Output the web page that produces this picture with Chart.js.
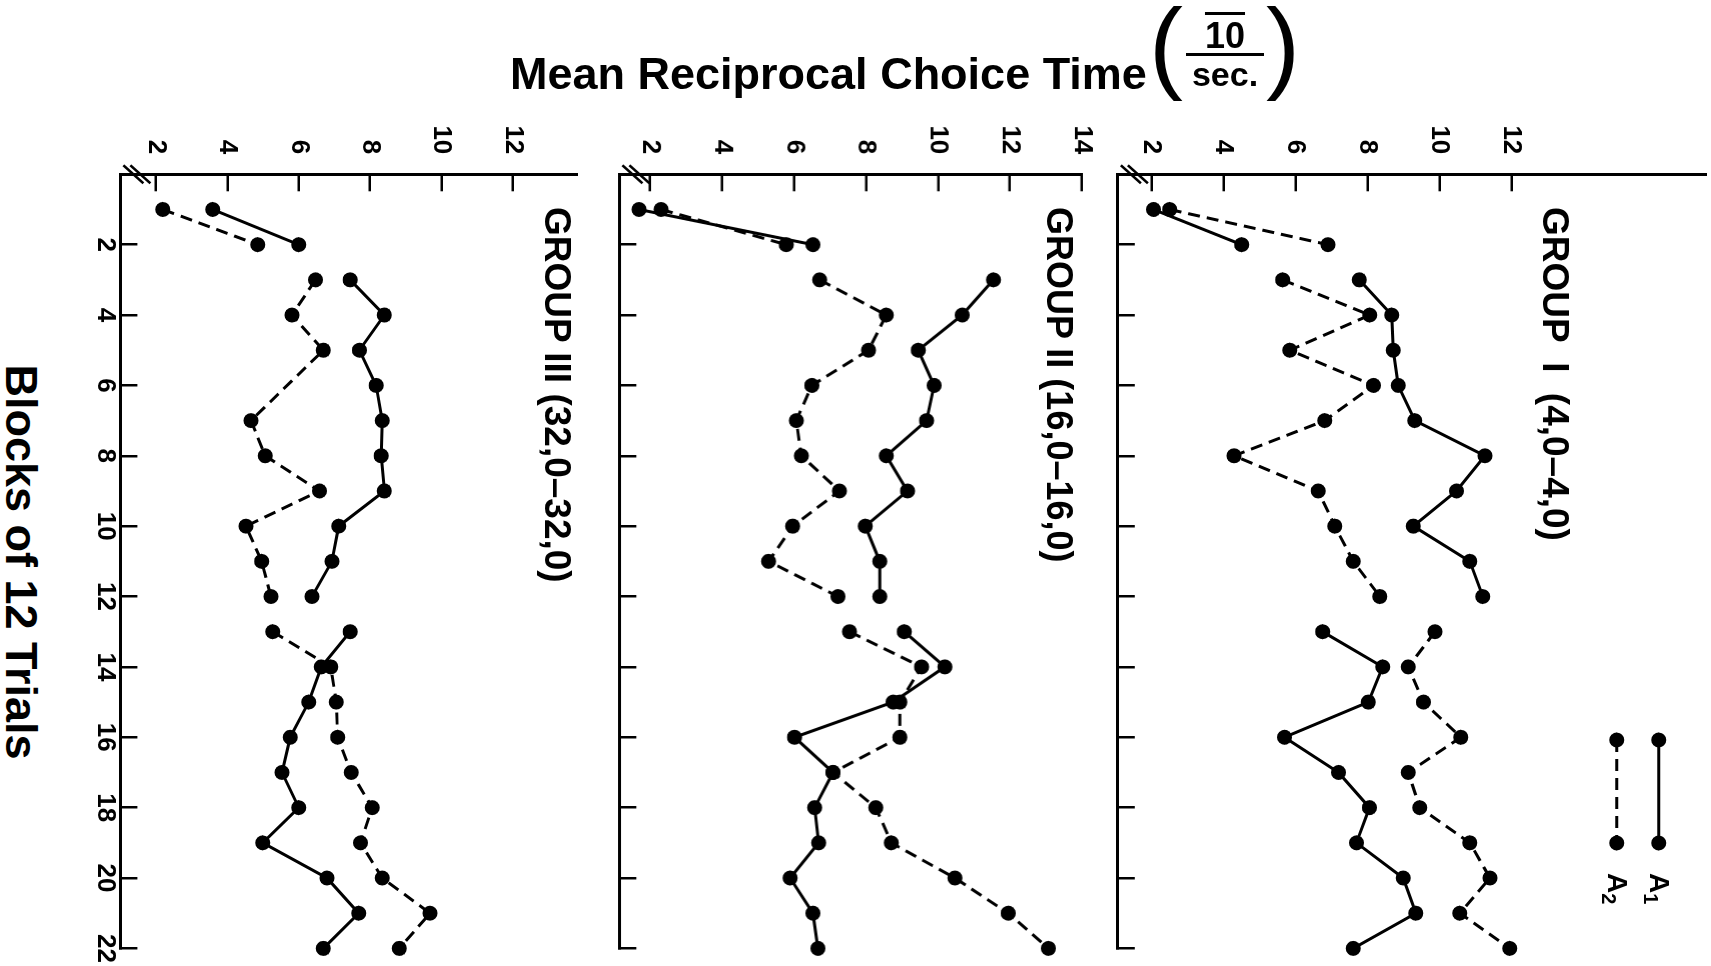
<!DOCTYPE html>
<html>
<head>
<meta charset="utf-8">
<script src="https://cdn.jsdelivr.net/npm/chart.js@4.4.1/dist/chart.umd.min.js"></script>
<style>
html,body{margin:0;padding:0;background:#fff;}
body{width:1711px;height:966px;overflow:hidden;position:relative;font-family:"Liberation Sans",Arial,sans-serif;color:#000;}
#rot{position:absolute;left:0;top:0;width:966px;height:1711px;transform-origin:0 0;transform:translateX(1711px) rotate(90deg);}
.panel{position:absolute;left:0;width:966px;}
.lbl{position:absolute;white-space:nowrap;font-weight:bold;}
.grp{font-size:37px;line-height:37px;}
.leg{font-size:28px;line-height:28px;}
.leg sub{font-size:20px;vertical-align:-6px;line-height:0;}
</style>
</head>
<body>
<div id="rot">
  <div class="panel" id="p1"><canvas id="c1"></canvas></div>
  <div class="panel" id="p2"><canvas id="c2"></canvas></div>
  <div class="panel" id="p3"><canvas id="c3"></canvas></div>
  <div class="lbl grp" id="g1" style="left:207px;top:137px;word-spacing:10px;"></div>
  <div class="lbl grp" id="g2" style="left:207px;top:633px;font-size:36px;"></div>
  <div class="lbl grp" id="g3" style="left:207px;top:1135px;"></div>
  <div class="lbl leg" style="left:873px;top:38px;">A<sub>1</sub></div>
  <div class="lbl leg" style="left:873px;top:80px;">A<sub>2</sub></div>
  <div class="lbl" id="xtitle" style="left:162px;width:800px;text-align:center;top:1667px;font-size:45px;line-height:45px;"></div>
</div>
<div class="lbl" id="ytitle" style="left:510px;top:51px;font-size:45px;line-height:45px;"></div>
<div class="lbl" style="left:1149px;top:-6px;font-size:102px;line-height:102px;font-weight:normal;">(</div>
<div class="lbl" style="left:1190px;top:18px;width:70px;text-align:center;font-size:36px;line-height:36px;text-decoration:overline;text-decoration-thickness:3px;">10</div>
<div style="position:absolute;left:1186px;top:53px;width:78px;height:0;border-top:3px solid #000;"></div>
<div class="lbl" style="left:1186px;top:57px;width:78px;text-align:center;font-size:34px;line-height:34px;">sec.</div>
<div class="lbl" style="left:1266px;top:-6px;font-size:102px;line-height:102px;font-weight:normal;">)</div>

<script>
// ---------- data ----------
const blocks = [1,2,3,4,5,6,7,8,9,10,11,12,13,14,15,16,17,18,19,20,21,22];
const blockTicks = [2,4,6,8,10,12,14,16,18,20,22];
const blockTickLabels = ['2','4','6','8','10','12','14','16','18','20','22'];
const valueTicksI = [2,4,6,8,10,12];
const valueTicksII = [2,4,6,8,10,12,14];
const valueTicksIII = [2,4,6,8,10,12];
const seriesNames = ['A1','A2'];
const groupNames = ['GROUP I (4,0\u20134,0)','GROUP II (16,0\u201316,0)','GROUP III (32,0\u201332,0)'];
const yTitle = 'Mean Reciprocal Choice Time';
const xTitle = 'Blocks of 12 Trials';

const groupI_A1 = [2.05,4.5,7.77,8.67,8.71,8.85,9.31,11.26,10.47,9.27,10.84,11.2,6.75,8.42,8.02,5.69,7.19,8.05,7.69,8.99,9.34,7.6];
const groupI_A2 = [2.5,6.9,5.64,8.06,5.84,8.16,6.81,4.29,6.63,7.09,7.6,8.34,9.87,9.13,9.55,10.59,9.13,9.45,10.84,11.4,10.56,11.95];
const groupII_A1 = [1.69,6.52,11.54,10.67,9.45,9.89,9.68,8.56,9.15,7.98,8.38,8.38,9.06,10.19,8.75,6.01,7.08,6.57,6.68,5.89,6.52,6.66];
const groupII_A2 = [2.3,5.78,6.71,8.56,8.07,6.49,6.06,6.2,7.26,5.96,5.29,7.22,7.54,9.54,8.94,8.94,7.08,8.27,8.7,10.47,11.95,13.07];
const groupIII_A1 = [3.59,6.0,7.44,8.4,7.7,8.17,8.34,8.31,8.4,7.12,6.93,6.37,7.44,6.63,6.28,5.76,5.53,6.0,4.99,6.79,7.68,6.69];
const groupIII_A2 = [2.19,4.85,6.47,5.81,6.69,null,4.66,5.06,6.58,4.52,4.96,5.22,5.27,6.9,7.05,7.09,7.47,8.06,7.73,8.34,9.68,8.82];
// lines are not drawn between these block indices (gap after block 2 and after block 12)
const breakAfterIndex = [1, 11];

document.getElementById('g1').textContent = groupNames[0];
document.getElementById('g2').textContent = groupNames[1];
document.getElementById('g3').textContent = groupNames[2];
document.getElementById('ytitle').textContent = yTitle;
document.getElementById('xtitle').textContent = xTitle;

// ---------- layout ----------
const FONT = "'Liberation Sans', Arial, sans-serif";
const PAD_TOP = 30;
const AXIS_LEFT = 174.3;
const AXIS_RIGHT = 948.4;

const breakMarks = {
  id: 'breakMarks',
  afterDraw(chart) {
    const {ctx, chartArea: a} = chart;
    ctx.save();
    ctx.strokeStyle = '#000';
    ctx.lineWidth = 2.5;
    ctx.setLineDash([]);
    [13, 20].forEach(off => {
      const y = a.bottom - off;
      ctx.beginPath();
      ctx.moveTo(a.left - 9, y + 10);
      ctx.lineTo(a.left + 9, y - 10);
      ctx.stroke();
    });
    ctx.restore();
  }
};

function legendPlugin(canvasTop) {
  return {
    id: 'legendMarks',
    afterDraw(chart) {
      const ctx = chart.ctx;
      const rows = [{v: 52, dash: []}, {v: 94, dash: [12, 7]}];
      ctx.save();
      rows.forEach(r => {
        const y = r.v - canvasTop;
        ctx.strokeStyle = '#000';
        ctx.lineWidth = 3;
        ctx.setLineDash(r.dash);
        ctx.beginPath();
        ctx.moveTo(740, y);
        ctx.lineTo(843, y);
        ctx.stroke();
        ctx.setLineDash([]);
        ctx.fillStyle = '#000';
        [740, 843].forEach(u => {
          ctx.beginPath();
          ctx.arc(u, y, 7.5, 0, Math.PI * 2);
          ctx.fill();
        });
      });
      ctx.restore();
    }
  };
}

function makePanel(n, opt) {
  const top = opt.base - (opt.max - opt.min) * opt.ppu;
  const canvasTop = top - PAD_TOP;
  const wrap = document.getElementById('p' + n);
  wrap.style.top = canvasTop + 'px';
  wrap.style.height = (opt.base + opt.xH - canvasTop) + 'px';

  const skipSeg = ctx => breakAfterIndex.includes(ctx.p0DataIndex) ? 'rgba(0,0,0,0)' : undefined;
  const mk = (vals, name, dash) => ({
    label: name,
    data: blocks.map((b, i) => ({x: b, y: vals[i]})),
    borderColor: '#000',
    backgroundColor: '#000',
    borderWidth: 3,
    borderDash: dash,
    pointRadius: 7.5,
    pointHoverRadius: 7.5,
    pointBorderWidth: 0,
    pointBackgroundColor: '#000',
    tension: 0,
    spanGaps: true,
    clip: false,
    segment: {borderColor: skipSeg}
  });

  const plugins = [breakMarks];
  if (opt.legend) plugins.push(legendPlugin(canvasTop));

  new Chart(document.getElementById('c' + n), {
    type: 'line',
    data: {datasets: [mk(opt.a1, seriesNames[0], []), mk(opt.a2, seriesNames[1], [12, 7])]},
    plugins,
    options: {
      responsive: true,
      maintainAspectRatio: false,
      animation: false,
      devicePixelRatio: 1,
      events: [],
      layout: {padding: {left: 0, right: 966 - AXIS_RIGHT, top: PAD_TOP, bottom: 0}},
      plugins: {legend: {display: false}, tooltip: {enabled: false}, title: {display: false}},
      scales: {
        x: {
          type: 'linear', position: 'bottom', min: 0, max: 22,
          afterBuildTicks: s => { s.ticks = blockTicks.map(v => ({value: v})); },
          afterFit: s => { s.height = opt.xH; s.paddingLeft = 0; s.paddingRight = 0; },
          grid: {drawOnChartArea: false, drawTicks: true, tickLength: -17, color: '#000', lineWidth: 2.5},
          border: {display: true, color: '#000', width: 3},
          ticks: {
            display: opt.showX, padding: 17, color: '#000', maxRotation: 0, autoSkip: false,
            font: {family: FONT, size: 26, weight: 'bold'},
            callback: v => blockTickLabels[blockTicks.indexOf(v)]
          }
        },
        y: {
          type: 'linear', position: 'left', min: opt.min, max: opt.max,
          afterBuildTicks: s => { s.ticks = opt.ticks.map(v => ({value: v})); },
          afterFit: s => { s.width = AXIS_LEFT; s.paddingTop = 0; s.paddingBottom = 0; },
          grid: {drawOnChartArea: false, drawTicks: true, tickLength: -17, color: '#000', lineWidth: 2.5},
          border: {display: true, color: '#000', width: 3},
          ticks: {
            padding: 37, color: '#000',
            font: {family: FONT, size: 26, weight: 'bold'},
            callback: v => String(v)
          }
        }
      }
    }
  });
}

makePanel(1, {base: 593, min: 1.06, max: 17.4, ppu: 36, xH: 20, showX: false, ticks: valueTicksI, a1: groupI_A1, a2: groupI_A2, legend: true});
makePanel(2, {base: 1091, min: 1.14, max: 14, ppu: 35.9, xH: 20, showX: false, ticks: valueTicksII, a1: groupII_A1, a2: groupII_A2});
makePanel(3, {base: 1590.3, min: 1.0, max: 13.8, ppu: 35.67, xH: 70, showX: true, ticks: valueTicksIII, a1: groupIII_A1, a2: groupIII_A2});
</script>
</body>
</html>
